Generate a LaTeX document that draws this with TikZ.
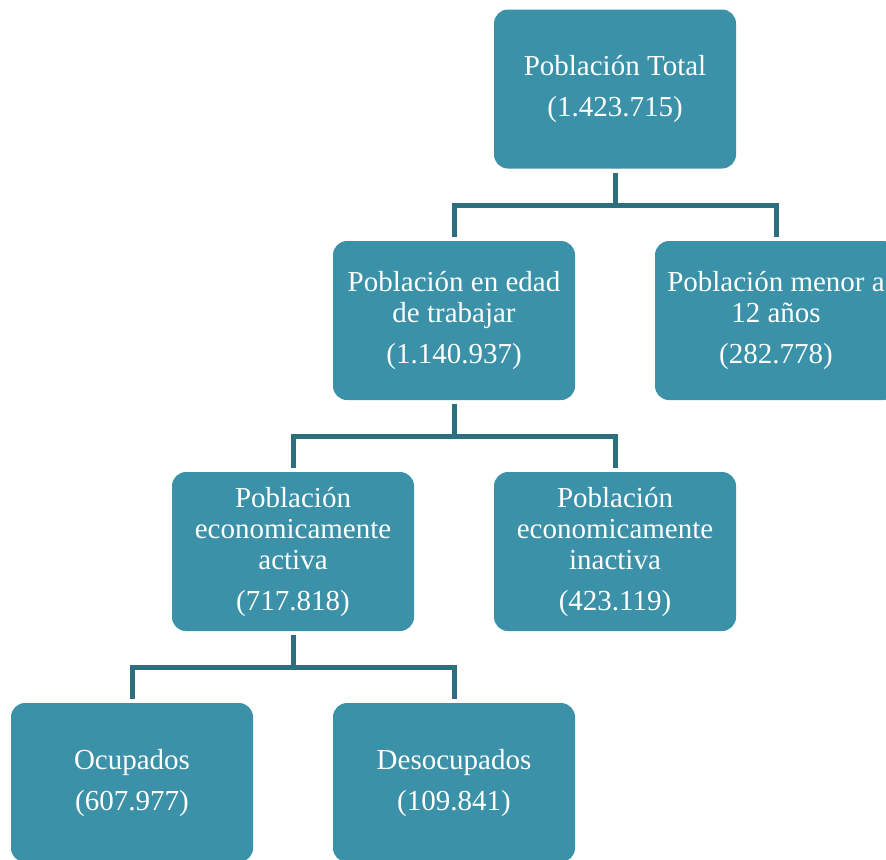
\documentclass[tikz,border=0pt]{standalone}
\usepackage{fontspec}
\setmainfont{Liberation Serif}
\usepackage{tikz}
\usetikzlibrary{positioning}
\definecolor{boxcolor}{RGB}{58,145,168}
\definecolor{linkcolor}{RGB}{44,112,128}

\begin{document}
\begin{tikzpicture}[x=0.5pt, y=-0.5pt,
    block/.style = {rectangle, rounded corners=7pt, fill=boxcolor, text=white,
                    minimum width=121pt, minimum height=79.5pt, inner sep=0pt,
                    align=center, font=\fontsize{14.5}{15.5}\selectfont,
                    execute at begin node={\rule{0pt}{13pt}}},
    link/.style  = {draw=linkcolor, line width=2.5pt},
    junc/.style  = {coordinate}]

  \useasboundingbox (0,0) rectangle (886,859);

  \draw (615,89) node[block] (Tot) {Población Total\\[5pt](1.423.715)};
  \draw (454,320.5) node[block] (Edad) {Población en edad\\de trabajar\\[5pt](1.140.937)};
  \draw (776,320.5) node[block] (Men) {Población menor a\\12 años\\[5pt](282.778)};
  \draw (293,551.5) node[block] (PEA) {Población\\economicamente\\activa\\[5pt](717.818)};
  \draw (615,551.5) node[block] (PEI) {Población\\economicamente\\inactiva\\[5pt](423.119)};
  \draw (132,782.5) node[block] (Ocu) {Ocupados\\[5pt](607.977)};
  \draw (454,782.5) node[block] (Des) {Desocupados\\[5pt](109.841)};

  \draw (615,205) node[junc] (j1) {};
  \draw (454,436) node[junc] (j2) {};
  \draw (293,667) node[junc] (j3) {};

  \draw [link, shorten <=2pt] (Tot) -- (j1);
  \draw [link, shorten <=2pt, shorten >=2pt] (Edad) |- (j1) -| (Men);
  \draw [link, shorten <=2pt] (Edad) -- (j2);
  \draw [link, shorten <=2pt, shorten >=2pt] (PEA) |- (j2) -| (PEI);
  \draw [link, shorten <=2pt] (PEA) -- (j3);
  \draw [link, shorten <=2pt, shorten >=2pt] (Ocu) |- (j3) -| (Des);

\end{tikzpicture}
\end{document}
